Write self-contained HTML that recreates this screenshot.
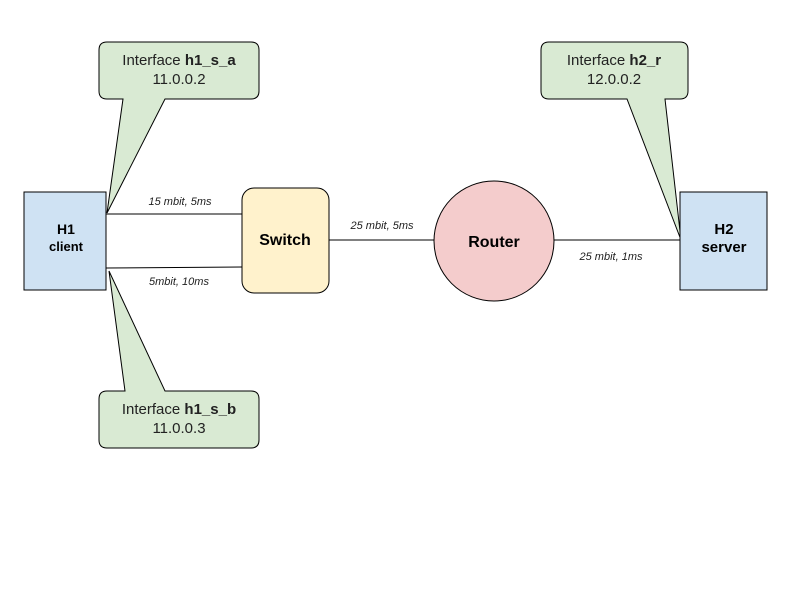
<!DOCTYPE html>
<html><head><meta charset="utf-8"><style>
html,body{margin:0;padding:0;background:#fff;width:800px;height:600px;overflow:hidden}
svg{display:block;font-family:"Liberation Sans",sans-serif}
</style></head><body>
<svg width="800" height="600" viewBox="0 0 800 600">
<g stroke="#000" stroke-width="1" fill="none">
<line x1="106" y1="214" x2="242" y2="214"/>
<line x1="106" y1="268" x2="242" y2="267"/>
<line x1="329" y1="240" x2="434" y2="240"/>
<line x1="554" y1="240" x2="680" y2="240"/>
</g>
<path d="M107,42 H251 Q259,42 259,50 V91 Q259,99 251,99 H165 L107,213 L123,99 H107 Q99,99 99,91 V50 Q99,42 107,42 Z" fill="#d9ead3" stroke="#000"/>
<path d="M107,391 H125 L109,271 L165,391 H251 Q259,391 259,399 V440 Q259,448 251,448 H107 Q99,448 99,440 V399 Q99,391 107,391 Z" fill="#d9ead3" stroke="#000"/>
<path d="M549,42 H680 Q688,42 688,50 V91 Q688,99 680,99 H665 L681,240 L627,99 H549 Q541,99 541,91 V50 Q541,42 549,42 Z" fill="#d9ead3" stroke="#000"/>
<rect x="24" y="192" width="82" height="98" fill="#cfe2f3" stroke="#000"/>
<rect x="680" y="192" width="87" height="98" fill="#cfe2f3" stroke="#000"/>
<rect x="242" y="188" width="87" height="105" rx="12" fill="#fff2cc" stroke="#000"/>
<circle cx="494" cy="241" r="60" fill="#f4cccc" stroke="#000"/>
<g font-size="15" text-anchor="middle" fill="#222">
<text x="179" y="65">Interface <tspan font-weight="bold">h1_s_a</tspan></text>
<text x="179" y="84">11.0.0.2</text>
<text x="179" y="414">Interface <tspan font-weight="bold">h1_s_b</tspan></text>
<text x="179" y="433">11.0.0.3</text>
<text x="614" y="65">Interface <tspan font-weight="bold">h2_r</tspan></text>
<text x="614" y="84">12.0.0.2</text>
</g>
<g font-weight="bold" text-anchor="middle" fill="#000">
<text x="66" y="234" font-size="14">H1</text>
<text x="66" y="251" font-size="13">client</text>
<text x="724" y="234" font-size="15">H2</text>
<text x="724" y="252" font-size="15">server</text>
<text x="285" y="245" font-size="16">Switch</text>
<text x="494" y="247" font-size="16">Router</text>
</g>
<g font-size="11" font-style="italic" text-anchor="middle" fill="#222">
<text x="180" y="205">15 mbit, 5ms</text>
<text x="179" y="285">5mbit, 10ms</text>
<text x="382" y="229">25 mbit, 5ms</text>
<text x="611" y="260">25 mbit, 1ms</text>
</g>
</svg>
</body></html>
